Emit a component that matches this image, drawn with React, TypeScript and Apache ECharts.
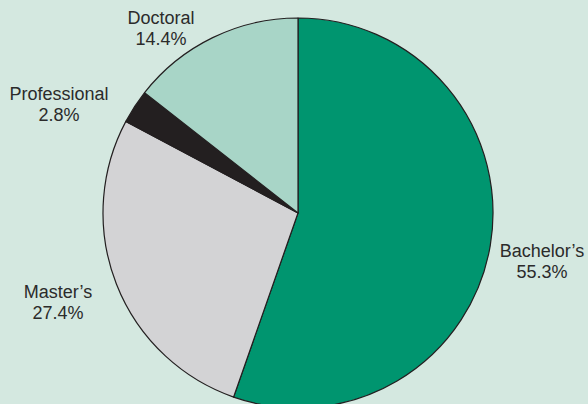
import React, { useEffect, useRef } from "react";
import * as echarts from "echarts";

const categories = ["Bachelor’s", "Master’s", "Professional", "Doctoral"];
const shares = [55.3, 27.4, 2.8, 14.4];
const sliceColors = ["#00956f", "#d3d3d5", "#231f20", "#a8d5c7"];
// label centres (px) for each category
const labelX = [542, 58, 59, 161];
const labelY = [261, 302, 104, 28];

export default function App() {
  const ref = useRef<HTMLDivElement>(null);
  useEffect(() => {
    if (!ref.current) return;
    const chart = echarts.init(ref.current, null, { renderer: "svg" });
    chart.setOption({
      animation: false,
      backgroundColor: "#d4e8e0",
      series: [
        {
          type: "pie",
          center: [298, 213],
          radius: 195,
          startAngle: 90,
          clockwise: true,
          avoidLabelOverlap: false,
          silent: true,
          itemStyle: { borderColor: "#231f20", borderWidth: 1.2 },
          label: {
            show: true,
            position: "outside",
            formatter: (p: any) => `${p.name}\n${p.value.toFixed(1)}%`,
            fontFamily: "Liberation Sans, Arial, sans-serif",
            fontSize: 18,
            lineHeight: 21,
            color: "#2b2b2b",
          },
          labelLine: { show: false },
          labelLayout: (p: any) => ({
            x: labelX[p.dataIndex],
            y: labelY[p.dataIndex],
            align: "center",
            verticalAlign: "middle",
          }),
          data: categories.map((c, i) => ({
            name: c,
            value: shares[i],
            itemStyle: { color: sliceColors[i] },
          })),
        },
      ],
    });
    return () => chart.dispose();
  }, []);
  return (
    <div
      ref={ref}
      style={{ position: "fixed", left: 0, top: 0, width: 588, height: 404 }}
    />
  );
}
